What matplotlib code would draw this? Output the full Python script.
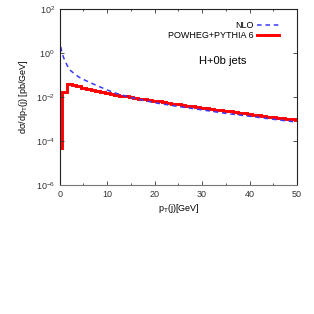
import matplotlib
matplotlib.use('Agg')
import matplotlib.pyplot as plt
from matplotlib.ticker import FixedLocator, FuncFormatter, MultipleLocator
import numpy as np

# POWHEG+PYTHIA 6 histogram: 1 GeV bins centred on integers (first bin cut at 0)
powheg_edges = np.concatenate([[0, 0.5], np.arange(1.5, 50, 1.0), [50]])
powheg_vals = [5e-5, 0.017,
               0.0389, 0.0355, 0.0302, 0.0263, 0.0229, 0.0204, 0.0182, 0.0166,
               0.0151, 0.0138, 0.0129, 0.0117, 0.0110, 0.0100, 0.0093, 0.0085,
               0.0079, 0.0072, 0.0068, 0.0063, 0.0059, 0.0055, 0.0050, 0.0047,
               0.0044, 0.0041, 0.0038, 0.0035, 0.0033, 0.0031, 0.0029, 0.0027,
               0.0025, 0.0023, 0.0022, 0.0020, 0.00195, 0.0018, 0.0017, 0.0016,
               0.0015, 0.0014, 0.0013, 0.00123, 0.00115, 0.0011, 0.00102,
               0.00095, 0.00091]

# NLO curve
nlo_pt = [0.25, 0.5, 1, 1.5, 2, 3, 4, 5, 6, 8, 10, 12, 15, 20, 25, 30, 35,
          40, 45, 50]
nlo_vals = [1.9, 1.0, 0.5, 0.3, 0.18, 0.12, 0.082, 0.063, 0.05, 0.032, 0.021,
            0.0145, 0.0095, 0.0055, 0.0037, 0.0026, 0.0018, 0.00133, 0.00097,
            0.00072]

y_ticks = [1e-6, 1e-4, 1e-2, 1e0, 1e2]

plt.rcParams['font.family'] = ['Liberation Sans', 'DejaVu Sans']
plt.rcParams['mathtext.default'] = 'regular'

fig = plt.figure(figsize=(3.14, 3.14), dpi=100)
ax = fig.add_axes([0.19, 0.411, 0.756, 0.56])

nlo_style = dict(color='#3a3aff', lw=1.1, ls=(0, (3, 2.5)))
ax.plot(nlo_pt, nlo_vals, **nlo_style)
ax.stairs(powheg_vals, powheg_edges, color='red', lw=2.1, baseline=None)

ax.set_yscale('log')
ax.set_xlim(0, 50)
ax.set_ylim(1e-6, 1e2)
ax.yaxis.set_major_locator(FixedLocator(y_ticks))
ax.yaxis.set_minor_locator(FixedLocator([]))
ax.yaxis.set_major_formatter(FuncFormatter(lambda v, p: r'$10^{%d}$' % round(np.log10(v))))
ax.xaxis.set_major_locator(MultipleLocator(10))
ax.xaxis.set_minor_locator(MultipleLocator(5))

ax.tick_params(which='both', direction='in', top=True, right=True,
               labelsize=6.5, width=0.6, colors='#333333')
ax.tick_params(which='major', length=3)
ax.tick_params(which='minor', length=1.5)
for s in ax.spines.values():
    s.set_linewidth(0.8)
    s.set_color('#222222')
ax.spines['bottom'].set_color('#777777')

ax.set_xlabel('p$_T$(j)[GeV]', fontsize=6.5, labelpad=2)
ax.set_ylabel(r'd$\sigma$/dp$_T$(j) [pb/GeV]', fontsize=6.5, labelpad=4)

# legend drawn gnuplot style (text right-aligned, sample on the right)
ax.text(0.815, 0.909, 'NLO', transform=ax.transAxes, ha='right', va='center', fontsize=6.5)
ax.plot([0.832, 0.924], [0.909, 0.909], transform=ax.transAxes, **nlo_style)
ax.text(0.815, 0.852, 'POWHEG+PYTHIA 6', transform=ax.transAxes, ha='right', va='center', fontsize=6.5)
ax.plot([0.832, 0.924], [0.852, 0.852], transform=ax.transAxes, color='red', lw=2.1)

ax.text(0.688, 0.705, 'H+0b jets', transform=ax.transAxes, ha='center', va='center', fontsize=8)

plt.savefig('out.png', dpi=100)
plt.close(fig)
